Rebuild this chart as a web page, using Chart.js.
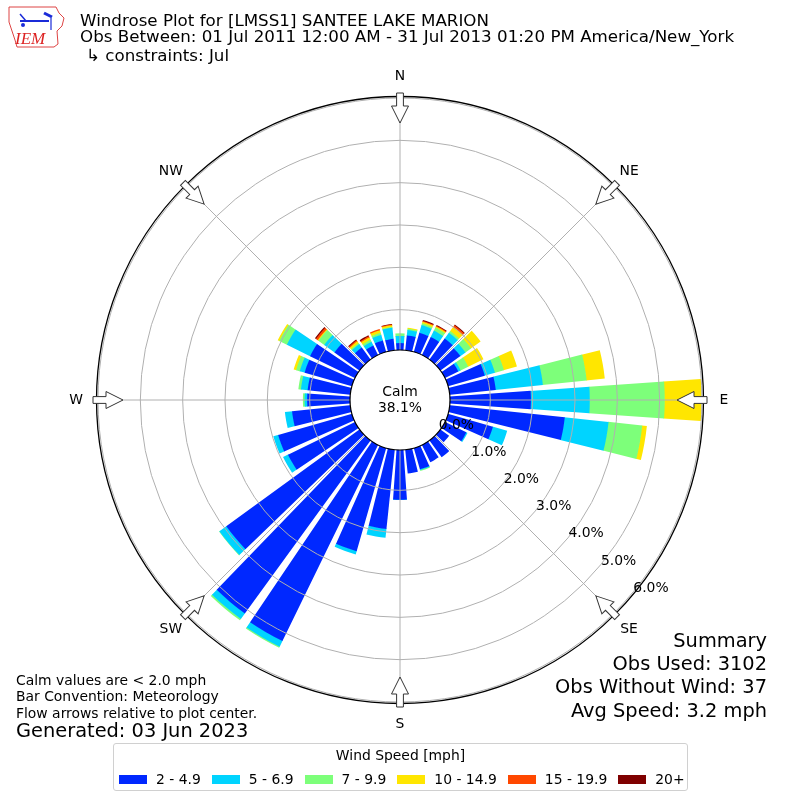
<!DOCTYPE html>
<html>
<head>
<meta charset="utf-8">
<script src="https://cdn.jsdelivr.net/npm/chart.js@4.4.0/dist/chart.umd.min.js"></script>
<style>
  body { margin: 0; background: #fff; font-family: "DejaVu Sans", sans-serif; }
  #wrap { position: relative; width: 800px; height: 800px; overflow: hidden; }
  #rose { position: absolute; left: 0; top: 0; }
  .t { position: absolute; white-space: nowrap; color: #000; line-height: 1; }
  .title { font-size: 16.7px; left: 80px; }
  .sum { font-size: 19.4px; right: 33px; text-align: right; }
  .note { font-size: 13.9px; left: 16px; }
  #legend {
    position: absolute; left: 113px; top: 743px; width: 573px; height: 46px;
    border: 1px solid #d0d0d0; border-radius: 3px; background: #fff;
  }
  #legend .lt { position: absolute; left: 0; width: 100%; top: 5px; text-align: center; font-size: 13.9px; line-height: 1; white-space: nowrap; }
  #legend .row { position: absolute; left: 5px; top: 29px; display: flex; align-items: center; font-size: 13.9px; line-height: 1; white-space: nowrap; }
  #legend .sw { flex: none; width: 28px; height: 9px; margin-right: 9px; }
  #legend .lab { flex: none; margin-right: 11px; white-space: nowrap; }
</style>
</head>
<body>
<div id="wrap">
  <canvas id="rose" width="800" height="800"></canvas>

  <svg style="position:absolute;left:6px;top:4px" width="62" height="46">
    <polygon points="3,3 50,3 53,9 58,14 56,22 51,27 52,40 48,43 11,43 9,36 3,18" fill="none" stroke="#d44" stroke-width="1"/>
    <line x1="14" y1="17" x2="43" y2="17" stroke="#1a2bd8" stroke-width="2"/>
    <line x1="14" y1="10" x2="20" y2="17" stroke="#1a2bd8" stroke-width="1.5"/>
    <line x1="38" y1="9" x2="46" y2="13" stroke="#1a2bd8" stroke-width="3"/>
    <line x1="45" y1="14" x2="45" y2="26" stroke="#1a2bd8" stroke-width="1.2"/>
    <circle cx="17" cy="21" r="2" fill="#1a2bd8"/>
    <text x="9" y="40" font-family="Liberation Serif" font-style="italic" font-size="17" fill="#d22">IEM</text>
  </svg>

  <div class="t title" style="top:11.5px">Windrose Plot for [LMSS1] SANTEE LAKE MARION</div>
  <div class="t title" style="top:28px">Obs Between: 01 Jul 2011 12:00 AM - 31 Jul 2013 01:20 PM America/New_York</div>
  <div class="t title" style="top:47px;left:86px">↳ constraints: Jul</div>

  <div class="t sum" style="top:630.6px">Summary</div>
  <div class="t sum" style="top:653.9px">Obs Used: 3102</div>
  <div class="t sum" style="top:677.2px">Obs Without Wind: 37</div>
  <div class="t sum" style="top:700.5px">Avg Speed: 3.2 mph</div>

  <div class="t note" style="top:673.5px">Calm values are &lt; 2.0 mph</div>
  <div class="t note" style="top:690px">Bar Convention: Meteorology</div>
  <div class="t note" style="top:706.5px">Flow arrows relative to plot center.</div>
  <div class="t note" style="top:720.6px;font-size:19.4px">Generated: 03 Jun 2023</div>

  <div id="legend">
    <div class="lt">Wind Speed [mph]</div>
    <div class="row" id="legendRow"></div>
  </div>
</div>

<script>
// direction bins (degrees, meteorological convention)
const directions = [0, 10, 20, 30, 40, 50, 60, 70, 80, 90, 100, 110,
                    120, 130, 140, 150, 160, 170, 180, 190, 200, 210, 220, 230,
                    240, 250, 260, 270, 280, 290, 300, 310, 320, 330, 340, 350];

const speedBins = ['2 - 4.9', '5 - 6.9', '7 - 9.9', '10 - 14.9', '15 - 19.9', '20+'];
const speedColors = ['#0028ff', '#00d4ff', '#7dff7a', '#ffe600', '#ff4800', '#7f0000'];

// frequency (%) for each direction, one array per speed bin
const spd2to5 = [0.21, 0.40, 0.52, 0.52, 0.66, 0.63, 0.40, 0.95, 1.14, 1.96, 2.78, 1.15,
                 0.61, 0.30, 0.54, 0.50, 0.57, 0.61, 1.22, 1.93, 2.58, 5.20, 5.10, 3.94,
                 1.81, 1.86, 1.43, 1.06, 1.06, 1.21, 1.23, 0.78, 0.40, 0.30, 0.33, 0.32];
const spd5to7 = [0.17, 0.13, 0.19, 0.17, 0.17, 0.15, 0.06, 0.25, 1.12, 1.39, 1.04, 0.35,
                 0.03, 0.00, 0.00, 0.00, 0.02, 0.00, 0.01, 0.21, 0.08, 0.15, 0.16, 0.20,
                 0.13, 0.12, 0.17, 0.06, 0.16, 0.12, 0.61, 0.30, 0.10, 0.10, 0.14, 0.26];
const spd7to10 = [0.06, 0.03, 0.04, 0.08, 0.05, 0.16, 0.20, 0.22, 1.04, 1.77, 0.80, 0.00,
                  0.00, 0.00, 0.00, 0.00, 0.02, 0.00, 0.00, 0.00, 0.00, 0.03, 0.04, 0.01,
                  0.00, 0.00, 0.00, 0.04, 0.06, 0.09, 0.20, 0.17, 0.03, 0.05, 0.05, 0.02];
const spd10to15 = [0.00, 0.02, 0.04, 0.03, 0.12, 0.28, 0.40, 0.32, 0.43, 0.87, 0.11, 0.00,
                   0.00, 0.00, 0.00, 0.00, 0.00, 0.00, 0.00, 0.00, 0.00, 0.00, 0.00, 0.00,
                   0.00, 0.00, 0.00, 0.00, 0.00, 0.06, 0.04, 0.02, 0.05, 0.06, 0.06, 0.04];
const spd15to20 = [0.00, 0.00, 0.02, 0.02, 0.05, 0.00, 0.00, 0.00, 0.00, 0.00, 0.00, 0.00,
                   0.00, 0.00, 0.00, 0.00, 0.00, 0.00, 0.00, 0.00, 0.00, 0.00, 0.00, 0.00,
                   0.00, 0.00, 0.00, 0.00, 0.00, 0.00, 0.00, 0.05, 0.03, 0.03, 0.03, 0.02];
const spd20up = [0.00, 0.00, 0.02, 0.02, 0.02, 0.00, 0.00, 0.00, 0.00, 0.00, 0.00, 0.00,
                 0.00, 0.00, 0.00, 0.00, 0.00, 0.00, 0.00, 0.00, 0.00, 0.00, 0.00, 0.00,
                 0.00, 0.00, 0.00, 0.00, 0.00, 0.00, 0.00, 0.03, 0.02, 0.03, 0.00, 0.01];

const calmPct = 38.1;
const tickValues = [0, 1, 2, 3, 4, 5, 6];
const compassNames = ['N', 'NE', 'E', 'SE', 'S', 'SW', 'W', 'NW'];

const BAR_DEG = 8;   // each sector drawn 8 deg wide ...
const GAP_DEG = 2;   // ... with a 2 deg gap

const speedSeries = [spd2to5, spd5to7, spd7to10, spd10to15, spd15to20, spd20up];

// each direction gets a bar slot and a gap slot
const sectorLabels = [];
directions.forEach(d => { sectorLabels.push(d + '°', ''); });

// dataset k holds the running total of bins 0..k (outer edge of that segment)
const datasets = speedBins.map((name, k) => {
  const data = [];
  directions.forEach((d, i) => {
    let cum = 0;
    for (let j = 0; j <= k; j++) cum += speedSeries[j][i];
    data.push(cum, 0);
  });
  return {
    label: name,
    data: data,
    borderWidth: 0,
    angle: ctx => (ctx.dataIndex % 2 === 0 ? BAR_DEG : GAP_DEG),
    backgroundColor: ctx => {
      const i = ctx.dataIndex;
      if (i % 2 === 1 || speedSeries[k][i / 2] === 0) return 'rgba(0,0,0,0)';
      return speedColors[k];
    }
  };
});

// html legend
const legendRow = document.getElementById('legendRow');
speedBins.forEach((name, k) => {
  const sw = document.createElement('span');
  sw.className = 'sw';
  sw.style.background = speedColors[k];
  const lab = document.createElement('span');
  lab.className = 'lab';
  lab.textContent = name;
  legendRow.appendChild(sw);
  legendRow.appendChild(lab);
});

// turn each wedge into a ring segment starting at the previous running total
const stackRings = {
  id: 'stackRings',
  afterDatasetsUpdate(chart) {
    const scale = chart.scales.r;
    chart.data.datasets.forEach((ds, k) => {
      if (k === 0) return;
      const prev = chart.data.datasets[k - 1].data;
      chart.getDatasetMeta(k).data.forEach((arc, i) => {
        arc.innerRadius = Math.max(0, scale.getDistanceFromCenterForValue(prev[i]) - 0.6);
      });
    });
  }
};

// compass arrow pointing toward the centre
function drawArrow(ctx, cx, cy, bearing, rTip) {
  ctx.save();
  ctx.translate(cx, cy);
  ctx.rotate(bearing * Math.PI / 180);
  ctx.beginPath();
  ctx.moveTo(0, -rTip);
  ctx.lineTo(-8.5, -(rTip + 17));
  ctx.lineTo(-3.4, -(rTip + 17));
  ctx.lineTo(-3.4, -(rTip + 30));
  ctx.lineTo(3.4, -(rTip + 30));
  ctx.lineTo(3.4, -(rTip + 17));
  ctx.lineTo(8.5, -(rTip + 17));
  ctx.closePath();
  ctx.fillStyle = '#fff';
  ctx.fill();
  ctx.strokeStyle = '#333';
  ctx.lineWidth = 1;
  ctx.stroke();
  ctx.restore();
}

const roseDecor = {
  id: 'roseDecor',
  afterDraw(chart) {
    const ctx = chart.ctx;
    const scale = chart.scales.r;
    const cx = scale.xCenter, cy = scale.yCenter;
    const R = scale.drawingArea;
    const calmR = 50;

    // spokes every 45 deg
    ctx.save();
    ctx.strokeStyle = '#b0b0b0';
    ctx.lineWidth = 1;
    for (let b = 0; b < 360; b += 45) {
      const a = b * Math.PI / 180;
      ctx.beginPath();
      ctx.moveTo(cx + calmR * Math.sin(a), cy - calmR * Math.cos(a));
      ctx.lineTo(cx + R * Math.sin(a), cy - R * Math.cos(a));
      ctx.stroke();
    }
    // outer frame
    ctx.strokeStyle = '#000';
    ctx.lineWidth = 1.3;
    ctx.beginPath();
    ctx.arc(cx, cy, R + 1.5, 0, Math.PI * 2);
    ctx.stroke();
    ctx.restore();

    // arrows + compass names
    ctx.save();
    ctx.font = '13.9px "DejaVu Sans"';
    ctx.fillStyle = '#000';
    ctx.textAlign = 'center';
    ctx.textBaseline = 'middle';
    compassNames.forEach((name, i) => {
      const b = i * 45;
      drawArrow(ctx, cx, cy, b, R - 25);
      const a = b * Math.PI / 180;
      ctx.fillText(name, cx + (R + 22) * Math.sin(a), cy - (R + 22) * Math.cos(a));
    });
    ctx.restore();

    // calm circle
    ctx.save();
    ctx.beginPath();
    ctx.arc(cx, cy, calmR, 0, Math.PI * 2);
    ctx.fillStyle = '#fff';
    ctx.fill();
    ctx.strokeStyle = '#000';
    ctx.lineWidth = 1.2;
    ctx.stroke();
    ctx.font = '13.9px "DejaVu Sans"';
    ctx.fillStyle = '#000';
    ctx.textAlign = 'center';
    ctx.textBaseline = 'alphabetic';
    ctx.fillText('Calm', cx, cy - 4);
    ctx.fillText(calmPct.toFixed(1) + '%', cx, cy + 12);
    ctx.restore();

    // radial tick labels along the 130 deg bearing, on top of everything
    ctx.save();
    ctx.font = '13.9px "DejaVu Sans"';
    ctx.fillStyle = '#000';
    ctx.textAlign = 'left';
    ctx.textBaseline = 'bottom';
    const la = 130 * Math.PI / 180;
    tickValues.forEach(v => {
      const r = scale.getDistanceFromCenterForValue(v);
      ctx.fillText(v.toFixed(1) + '%', cx + r * Math.sin(la) + 2, cy - r * Math.cos(la) + 1);
    });
    ctx.restore();
  }
};

new Chart(document.getElementById('rose'), {
  type: 'polarArea',
  data: { labels: sectorLabels, datasets: datasets },
  options: {
    responsive: false,
    animation: false,
    events: [],
    layout: { padding: 98 },
    plugins: {
      legend: { display: false },
      tooltip: { enabled: false }
    },
    scales: {
      r: {
        min: -1.134,
        max: 6,
        startAngle: -BAR_DEG / 2,
        afterBuildTicks: s => { s.ticks = tickValues.map(v => ({ value: v })); },
        ticks: { display: false },
        grid: { color: '#b0b0b0', lineWidth: 1, circular: true, z: 1 },
        angleLines: { display: false },
        pointLabels: { display: false }
      }
    }
  },
  plugins: [stackRings, roseDecor]
});
</script>
</body>
</html>
